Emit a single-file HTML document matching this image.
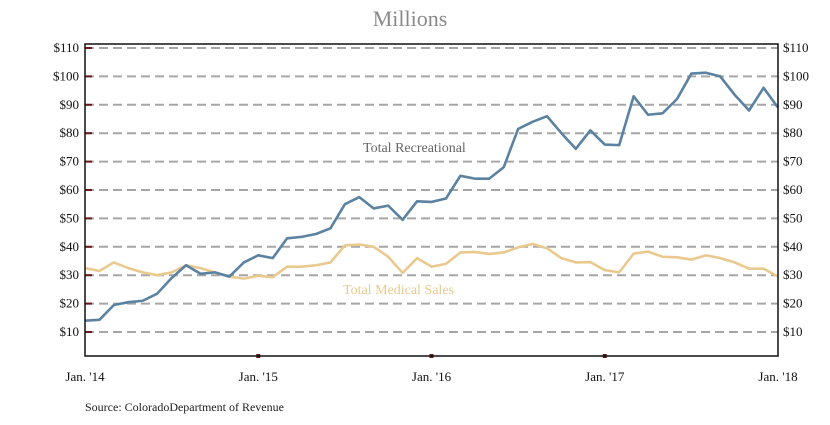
<!DOCTYPE html>
<html><head><meta charset="utf-8"><style>
body{margin:0;background:#fff;}
svg text{font-family:"Liberation Serif",serif;}
</style></head><body>
<svg width="830" height="420" id="c">
<text x="410" y="26" text-anchor="middle" font-size="22" fill="#8a8a8a">Millions</text>
<text x="85" y="411" font-size="12" fill="#222">Source: ColoradoDepartment of Revenue</text>
<g id="grid"></g><g id="lines"></g>
<rect x="85" y="44" width="693" height="312" fill="none" stroke="#111" stroke-width="1.5"/>
</svg>
<script>
const yTicks=[10,20,30,40,50,60,70,80,90,100,110];
const xLabels=["Jan. '14","Jan. '15","Jan. '16","Jan. '17","Jan. '18"];
const recreational=[14,14.3,19.5,20.5,21,23.5,29,33.5,30.5,31,29.5,34.5,37,36,43,43.5,44.5,46.5,55,57.5,53.5,54.5,49.5,56,55.8,57,65,64,64,68,81.5,84,86,80,74.5,81,76,75.8,93,86.5,87,92,101,101.3,100,93.5,88,96,89];
const medical=[32.5,31.5,34.5,32.5,31,30,31,33.5,32.5,31,29.5,28.8,29.8,29.3,33,33,33.5,34.5,40.5,40.8,40,36.5,30.8,36,33,34,38,38.2,37.5,38,39.8,41,39.5,36,34.5,34.6,31.8,31,37.6,38.3,36.5,36.3,35.5,37,36,34.5,32.3,32.3,29.5];
const NS="http://www.w3.org/2000/svg";
const x=i=>85+i*693/48, y=v=>360.4-2.84*v;
const grid=document.getElementById('grid'), lines=document.getElementById('lines');
function mk(tag,a,p){const e=document.createElementNS(NS,tag);for(const k in a)e.setAttribute(k,a[k]);p.appendChild(e);return e;}
yTicks.forEach(v=>{
 const l=mk('line',{x1:85,x2:778,y1:y(v),y2:y(v),stroke:'#a6a6a6','stroke-width':2,'stroke-dasharray':'9,5'},grid);
 
 
 const t=mk('line',{x1:85,x2:92,y1:y(v),y2:y(v),stroke:'#6b1a1a','stroke-width':2},grid);
 
 
 const a=mk('text',{x:79,y:y(v)+4,'text-anchor':'end','font-size':13,fill:'#111'},grid);a.textContent='$'+v;
 
 
 const b=mk('text',{x:783,y:y(v)+4,'font-size':13,fill:'#111'},grid);b.textContent='$'+v;
 
 
});
xLabels.forEach((s,k)=>{
 const xx=x(k*12);
 if(k>0&&k<4){const t=mk('rect',{x:xx-2,y:354,width:4,height:4,fill:'#6b1a1a'},grid);
 
 }
 const a=mk('text',{x:xx,y:381,'text-anchor':'middle','font-size':13,fill:'#111'},grid);a.textContent=s;
 
 
});
function series(d,c,n){const p=mk('polyline',{points:d.map((v,i)=>x(i)+','+y(v)).join(' '),fill:'none',stroke:c,'stroke-width':2.6,'stroke-linejoin':'round'},lines);
 
 }
series(medical,'#e9c98e','medical-sales-line');
series(recreational,'#5b82a1','recreational-line');
const l1=mk('text',{x:363,y:152,'font-size':14,fill:'#666'},lines);l1.textContent='Total Recreational';


const l2=mk('text',{x:343,y:294,'font-size':14,fill:'#e9c98e'},lines);l2.textContent='Total Medical Sales';


</script>
</body></html>
